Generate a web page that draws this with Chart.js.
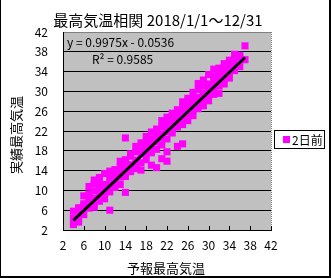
<!DOCTYPE html>
<html>
<head>
<meta charset="utf-8">
<script src="https://cdn.jsdelivr.net/npm/chart.js@4/dist/chart.umd.min.js"></script>
<style>
  body { margin: 0; background: #fff; }
  canvas { display: block; }
</style>
</head>
<body>
<canvas id="myChart" width="331" height="278"></canvas>
<script>
const forecastX = [
  4, 4, 4,
  5, 5, 5, 5,
  6, 6, 6, 6,
  7, 7, 7, 7, 7,
  8, 8, 8, 8, 8, 8,
  9, 9, 9, 9, 9, 9,
  10, 10, 10, 10, 10,
  11, 11, 11, 11, 11, 11,
  12, 12, 12, 12, 12,
  13, 13, 13, 13, 13,
  14, 14, 14, 14, 14, 14, 14,
  15, 15, 15, 15,
  16, 16, 16, 16, 16,
  17, 17, 17, 17, 17,
  18, 18, 18, 18, 18,
  19, 19, 19, 19, 19, 19,
  20, 20, 20, 20, 20, 20,
  21, 21, 21, 21, 21, 21,
  22, 22, 22, 22, 22, 22, 22,
  23, 23, 23, 23, 23,
  24, 24, 24, 24, 24, 24,
  25, 25, 25, 25, 25, 25,
  26, 26, 26, 26, 26,
  27, 27, 27, 27, 27,
  28, 28, 28, 28, 28,
  29, 29, 29, 29, 29,
  30, 30, 30, 30, 30,
  31, 31, 31, 31, 31, 31,
  32, 32, 32, 32, 32,
  33, 33, 33, 33, 33,
  34, 34, 34, 34, 34,
  35, 35, 35, 35,
  36, 36, 36,
  37, 37
];
const actualY = [
  3.1, 4.4, 5.8,
  3.6, 5.9, 6.5, 4.2,
  6.8, 5.1, 8.9, 7.3,
  6.4, 8.6, 7.7, 10.8, 9.3,
  7.1, 9.9, 8.4, 11.3, 6.6, 12.1,
  10.7, 8.9, 12.6, 9.4, 11.5, 7.8,
  11.2, 9.6, 13.4, 10.1, 8.3,
  6.0, 12.9, 10.8, 11.6, 9.7, 13.9,
  12.4, 10.6, 14.2, 11.9, 13.1,
  14.8, 12.7, 11.2, 13.6, 15.9,
  9.6, 13.3, 15.4, 12.8, 16.2, 14.7, 20.6,
  16.9, 13.8, 15.2, 17.4,
  14.4, 17.8, 16.1, 15.3, 18.9,
  18.2, 15.6, 17.4, 19.6, 14.1,
  19.8, 16.2, 17.5, 18.6, 20.9,
  15.1, 20.4, 18.1, 21.8, 19.3, 17.6,
  14.6, 21.5, 19.8, 18.3, 22.4, 20.7,
  16.4, 22.9, 20.6, 21.4, 19.2, 24.1,
  17.8, 15.9, 23.7, 21.9, 20.4, 22.6, 24.8,
  22.3, 24.9, 21.6, 23.8, 25.6,
  18.9, 24.7, 22.8, 26.3, 23.5, 25.1,
  19.4, 26.8, 24.5, 23.3, 27.9, 25.7,
  27.2, 25.4, 24.1, 28.6, 26.3,
  28.7, 26.2, 27.6, 29.8, 25.1,
  30.4, 27.3, 28.8, 31.6, 26.5,
  31.2, 28.4, 29.7, 27.1, 32.3,
  28.1, 31.5, 30.3, 33.4, 29.2,
  29.4, 33.1, 31.2, 34.5, 30.0, 32.4,
  29.6, 34.7, 32.2, 33.5, 31.1,
  34.8, 32.4, 33.7, 35.6, 31.5,
  35.1, 33.6, 36.3, 34.4, 32.7,
  36.5, 34.2, 35.4, 37.5,
  35.0, 36.8, 37.3,
  36.4, 39.2
];

// trendline as printed on the chart
const slope = 0.9975;
const intercept = -0.0536;
const r2 = 0.9585;

const seriesLabel = '2日前';
const chartTitle = '最高気温相関 2018/1/1～12/31';
const xTitle = '予報最高気温';
const yTitle = '実績最高気温';
const axisMin = 2, axisMax = 42, axisStep = 4;

const FONT = '"Noto Sans CJK JP", "Noto Sans", sans-serif';

const points = forecastX.map((x, i) => ({ x: x, y: actualY[i] }));
const xLo = Math.min(...forecastX), xHi = Math.max(...forecastX);
const trend = [
  { x: xLo, y: slope * xLo + intercept },
  { x: xHi, y: slope * xHi + intercept }
];

const decor = {
  id: 'decor',
  beforeDraw(chart) {
    const { ctx, chartArea: a } = chart;
    ctx.save();
    ctx.fillStyle = '#c0c0c0';
    ctx.fillRect(a.left, a.top, a.right - a.left, a.bottom - a.top);
    ctx.restore();
  },
  beforeDatasetsDraw(chart) {
    const { ctx, chartArea: a, scales } = chart;
    ctx.save();
    // gray plot border on the right
    ctx.strokeStyle = '#808080';
    ctx.lineWidth = 1;
    ctx.setLineDash([1, 1]);
    ctx.beginPath();
    ctx.moveTo(a.right + 0.5, a.top);
    ctx.lineTo(a.right + 0.5, a.bottom);
    ctx.stroke();
    ctx.setLineDash([]);
    // small inner ticks on x axis
    ctx.strokeStyle = '#000';
    scales.x.ticks.forEach(t => {
      const px = Math.round(scales.x.getPixelForValue(t.value)) + 0.5;
      ctx.beginPath();
      ctx.moveTo(px, a.bottom);
      ctx.lineTo(px, a.bottom - 4);
      ctx.stroke();
    });
    ctx.restore();
  },
  afterDraw(chart) {
    const { ctx, width, height } = chart;
    ctx.save();
    ctx.fillStyle = '#000';
    ctx.textBaseline = 'middle';

    ctx.font = '15px ' + FONT;
    ctx.textAlign = 'center';
    ctx.fillText(chartTitle, 158, 20);

    ctx.font = '13px ' + FONT;
    ctx.fillText(xTitle, 166, 268);
    ctx.save();
    ctx.translate(16, 135);
    ctx.rotate(-Math.PI / 2);
    ctx.fillText(yTitle, 0, 0);
    ctx.restore();

    // trendline label
    ctx.font = '12px ' + FONT;
    ctx.textAlign = 'left';
    ctx.fillText('y = ' + slope + 'x - ' + Math.abs(intercept), 67, 42);
    ctx.fillText('R² = ' + r2, 92, 59);

    // legend
    ctx.fillStyle = '#fff';
    ctx.fillRect(274, 130, 50, 18);
    ctx.strokeStyle = '#000';
    ctx.lineWidth = 1;
    ctx.strokeRect(274.5, 130.5, 50, 18);
    ctx.fillStyle = '#ff00ff';
    ctx.fillRect(283, 136, 7, 7);
    ctx.fillStyle = '#000';
    ctx.fillText(seriesLabel, 292, 140);

    // chart frame
    ctx.fillRect(0, 0, 1, height);
    ctx.fillRect(width - 2, 0, 2, height);
    ctx.fillRect(0, height - 2, width, 2);
    ctx.restore();
  }
};

const ctx = document.getElementById('myChart').getContext('2d');
new Chart(ctx, {
  type: 'scatter',
  data: {
    datasets: [
      {
        label: 'trend',
        type: 'line',
        data: trend,
        borderColor: '#000',
        borderWidth: 3,
        pointRadius: 0,
        fill: false,
        order: 0
      },
      {
        label: seriesLabel,
        data: points,
        pointStyle: 'rect',
        pointRadius: 5,
        borderWidth: 0,
        backgroundColor: '#ff00ff',
        borderColor: '#ff00ff',
        order: 1
      }
    ]
  },
  options: {
    responsive: false,
    animation: false,
    devicePixelRatio: 1,
    layout: { padding: { left: 0, right: 60, top: 32, bottom: 0 } },
    plugins: {
      legend: { display: false },
      tooltip: { enabled: false }
    },
    scales: {
      x: {
        type: 'linear',
        min: axisMin,
        max: axisMax,
        afterFit: s => { s.height = 48; },
        ticks: { stepSize: axisStep, color: '#000', padding: 8, maxRotation: 0, font: { family: FONT, size: 12 } },
        grid: { display: false, drawTicks: false },
        border: { color: '#000', width: 1 }
      },
      y: {
        type: 'linear',
        min: axisMin,
        max: axisMax,
        afterFit: s => { s.width = 63; },
        ticks: { stepSize: axisStep, color: '#000', padding: 15, font: { family: FONT, size: 12 } },
        grid: {
          drawTicks: false,
          color: c => (c.tick && c.tick.value === axisMax ? '#808080' : '#000'),
          lineWidth: 1
        },
        border: { color: '#000', width: 1 }
      }
    }
  },
  plugins: [decor]
});
</script>
</body>
</html>
